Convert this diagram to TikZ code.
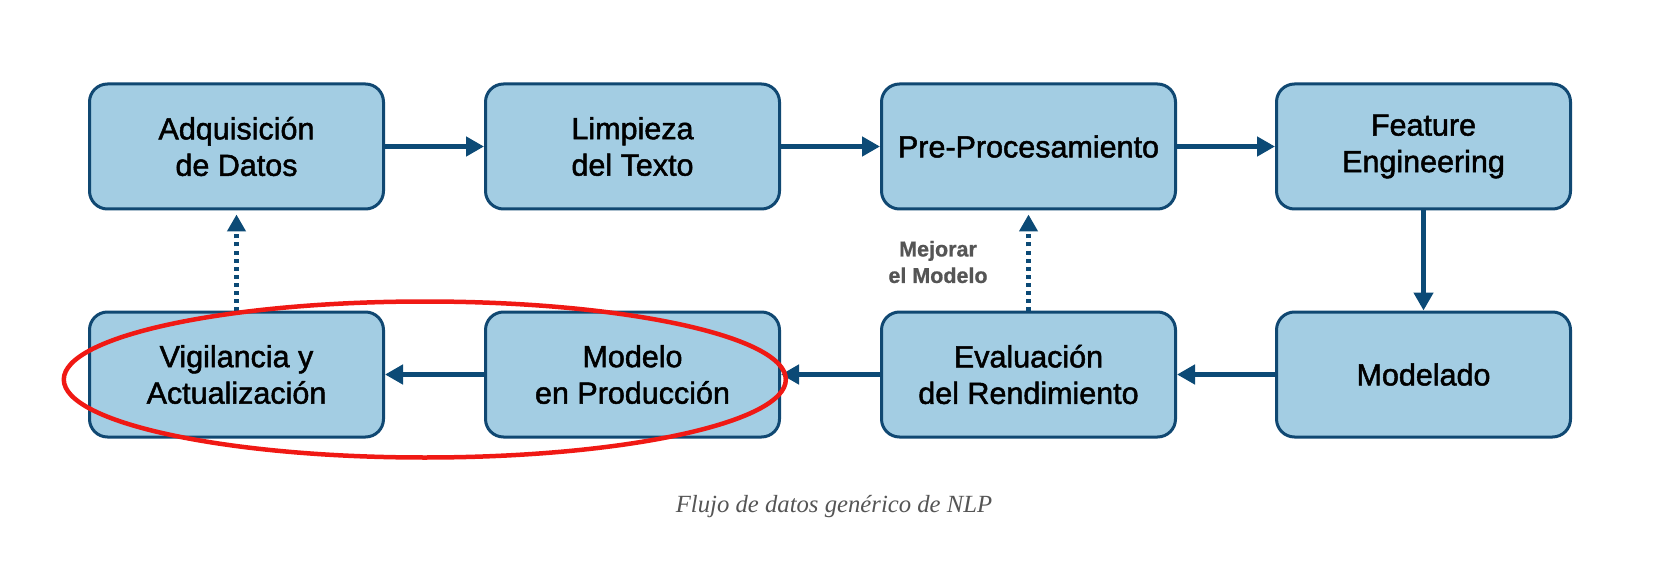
\documentclass[tikz,border=0pt]{standalone}
\usepackage{fontspec}
\setmainfont{Liberation Sans}
\newfontfamily\boxfont[FakeBold=1.6]{Liberation Sans}
\newfontfamily\labfont[FakeBold=0.8]{Liberation Sans Bold}
\newfontfamily\capfont{Liberation Serif}
\usetikzlibrary{arrows.meta,shapes.geometric}
\definecolor{boxfill}{RGB}{163,205,227}
\definecolor{boxline}{RGB}{16,72,114}
\definecolor{arrowc}{RGB}{12,74,118}
\definecolor{labelgray}{RGB}{85,85,85}
\definecolor{ovalred}{RGB}{240,25,20}
\begin{document}
\begin{tikzpicture}[x=1pt,y=-1pt,
  stepbox/.style={draw=boxline, fill=boxfill, line width=3pt, rounded corners=18pt,
    minimum width=294pt, minimum height=125pt, align=center, inner sep=0pt,
    font=\boxfont\fontsize{30.5}{36.5}\selectfont},
  flow/.style={draw=arrowc, line width=4.5pt, -{Triangle[length=18pt,width=19pt]}},
  feedback/.style={draw=arrowc, line width=4.5pt, dash pattern=on 4pt off 4pt,
    -{Triangle[length=17pt,width=18pt]}, shorten >=4pt},
  highlight/.style={draw=ovalred, line width=4.5pt, ellipse, inner sep=0pt,
    minimum width=722pt, minimum height=156pt}]
\path[use as bounding box, fill=white] (0,0) rectangle (1661,569);
\node[stepbox] (adq) at (236.5,146.5) {Adquisición\\de Datos};
\node[stepbox] (lim) at (632.5,146.5) {Limpieza\\del Texto};
\node[stepbox] (pre) at (1028.5,146.5) {Pre-Procesamiento};
\node[stepbox] (fea) at (1423.5,146.5) {Feature\\Engineering};
\node[stepbox] (vig) at (236.5,374.5) {Vigilancia y\\Actualización};
\node[stepbox] (pro) at (632.5,374.5) {Modelo\\en Producción};
\node[stepbox] (eva) at (1028.5,374.5) {Evaluación\\del Rendimiento};
\node[stepbox] (mdl) at (1423.5,374.5) {Modelado};
\draw[flow] (adq) -- (lim);
\draw[flow] (lim) -- (pre);
\draw[flow] (pre) -- (fea);
\draw[flow] (fea) -- (mdl);
\draw[flow] (mdl) -- (eva);
\draw[flow] (eva) -- (pro);
\draw[flow] (pro) -- (vig);
\draw[feedback] (vig) -- (adq);
\draw[feedback] (eva) -- (pre);
\node[font=\labfont\fontsize{21.5}{26.5}\selectfont, text=labelgray, align=center] (mej) at (938,262) {Mejorar\\el Modelo};
\node[highlight] (hl) at (424.8,379.5) {};
\node[font=\capfont\itshape\fontsize{24.7}{28}\selectfont, text=labelgray] (cap) at (834,507) {Flujo de datos genérico de NLP};
\end{tikzpicture}
\end{document}
